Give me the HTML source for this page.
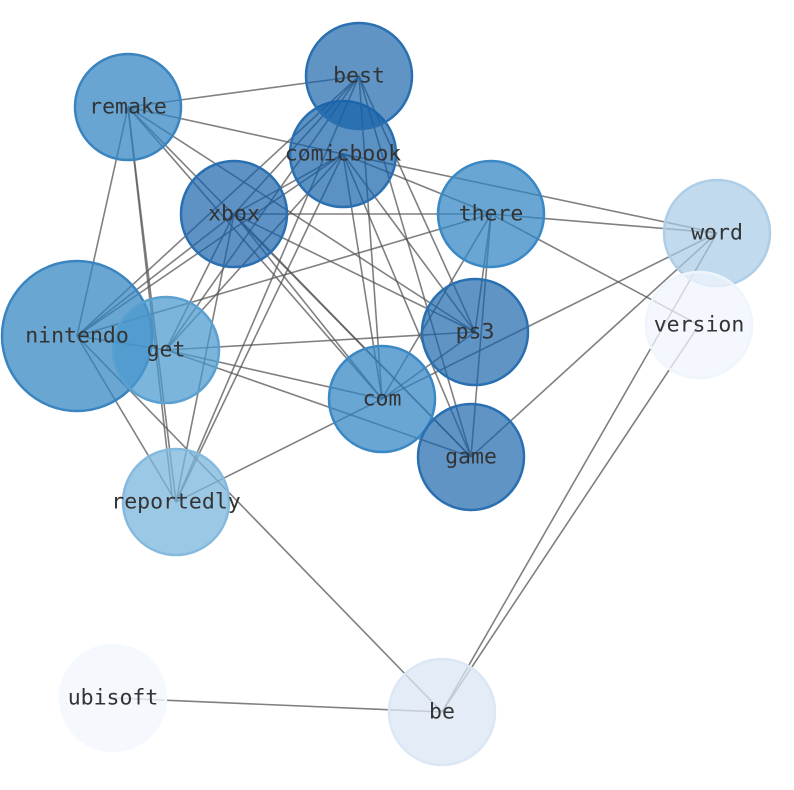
<!DOCTYPE html>
<html><head><meta charset="utf-8"><style>html,body{margin:0;padding:0;background:#fff}svg{display:block}</style></head>
<body>
<svg width="794" height="790" viewBox="0 0 794 790" xmlns="http://www.w3.org/2000/svg">
<g stroke="#555" stroke-opacity="0.75" stroke-width="1.6">
<line x1="128" y1="107" x2="359" y2="76"/>
<line x1="128" y1="107" x2="343" y2="154"/>
<line x1="128" y1="107" x2="77" y2="336"/>
<line x1="128" y1="107" x2="176" y2="502"/>
<line x1="128" y1="107" x2="172" y2="495"/>
<line x1="128" y1="107" x2="382" y2="399"/>
<line x1="128" y1="107" x2="471" y2="457"/>
<line x1="128" y1="107" x2="475" y2="332"/>
<line x1="359" y1="76" x2="234" y2="214"/>
<line x1="359" y1="76" x2="166" y2="350"/>
<line x1="359" y1="76" x2="77" y2="336"/>
<line x1="359" y1="76" x2="176" y2="502"/>
<line x1="359" y1="76" x2="475" y2="332"/>
<line x1="359" y1="76" x2="471" y2="457"/>
<line x1="359" y1="76" x2="382" y2="399"/>
<line x1="343" y1="154" x2="491" y2="214"/>
<line x1="343" y1="154" x2="717" y2="233"/>
<line x1="343" y1="154" x2="166" y2="350"/>
<line x1="343" y1="154" x2="77" y2="336"/>
<line x1="343" y1="154" x2="382" y2="399"/>
<line x1="343" y1="154" x2="471" y2="457"/>
<line x1="343" y1="154" x2="475" y2="332"/>
<line x1="343" y1="154" x2="234" y2="214"/>
<line x1="234" y1="214" x2="491" y2="214"/>
<line x1="234" y1="214" x2="475" y2="332"/>
<line x1="234" y1="214" x2="382" y2="399"/>
<line x1="234" y1="214" x2="471" y2="457"/>
<line x1="234" y1="214" x2="166" y2="350"/>
<line x1="234" y1="214" x2="176" y2="502"/>
<line x1="234" y1="214" x2="77" y2="336"/>
<line x1="491" y1="214" x2="717" y2="233"/>
<line x1="491" y1="214" x2="699" y2="325"/>
<line x1="491" y1="214" x2="77" y2="336"/>
<line x1="491" y1="214" x2="475" y2="332"/>
<line x1="491" y1="214" x2="471" y2="457"/>
<line x1="491" y1="214" x2="382" y2="399"/>
<line x1="717" y1="233" x2="382" y2="399"/>
<line x1="717" y1="233" x2="471" y2="457"/>
<line x1="717" y1="233" x2="442" y2="712"/>
<line x1="699" y1="325" x2="442" y2="712"/>
<line x1="166" y1="350" x2="475" y2="332"/>
<line x1="166" y1="350" x2="382" y2="399"/>
<line x1="166" y1="350" x2="471" y2="457"/>
<line x1="77" y1="336" x2="166" y2="350"/>
<line x1="77" y1="336" x2="176" y2="502"/>
<line x1="77" y1="336" x2="442" y2="712"/>
<line x1="176" y1="502" x2="382" y2="399"/>
<line x1="176" y1="502" x2="343" y2="154"/>
<line x1="475" y1="332" x2="382" y2="399"/>
<line x1="113" y1="698" x2="442" y2="712"/>
</g>
<g stroke-width="2.5">
<circle cx="128" cy="107" r="53" fill="#2f82c0" fill-opacity="0.72" stroke="#3a85c0"/>
<circle cx="343" cy="154" r="53" fill="#0f5da8" fill-opacity="0.68" stroke="#2a6fb0"/>
<circle cx="359" cy="76" r="53" fill="#1461aa" fill-opacity="0.68" stroke="#2a6fb0"/>
<circle cx="234" cy="214" r="53" fill="#125fa9" fill-opacity="0.68" stroke="#2a6fb0"/>
<circle cx="491" cy="214" r="53" fill="#2f84c3" fill-opacity="0.72" stroke="#3a88c4"/>
<circle cx="717" cy="233" r="53" fill="#a8cbe5" fill-opacity="0.7" stroke="#aecde6"/>
<circle cx="699" cy="325" r="53" fill="#f0f6fd" fill-opacity="0.75" stroke="#eef5fd"/>
<circle cx="77" cy="336" r="75" fill="#3183c0" fill-opacity="0.72" stroke="#3a85c0"/>
<circle cx="166" cy="350" r="53" fill="#4a98cd" fill-opacity="0.72" stroke="#5aa0d0"/>
<circle cx="475" cy="332" r="53" fill="#1461aa" fill-opacity="0.68" stroke="#2a6fb0"/>
<circle cx="382" cy="399" r="53" fill="#2f84c3" fill-opacity="0.72" stroke="#3a88c4"/>
<circle cx="471" cy="457" r="53" fill="#1461aa" fill-opacity="0.68" stroke="#2a6fb0"/>
<circle cx="176" cy="502" r="53" fill="#7ab5dc" fill-opacity="0.75" stroke="#85badd"/>
<circle cx="113" cy="698" r="53" fill="#f3f8fe" fill-opacity="0.8" stroke="#f5f9fe"/>
<circle cx="442" cy="712" r="53" fill="#dae6f4" fill-opacity="0.75" stroke="#dbe7f5"/>
</g>
<g font-family="DejaVu Sans Mono, Liberation Mono, monospace" font-size="21.5" fill="#333" text-anchor="middle" dominant-baseline="central">
<text x="128" y="107">remake</text>
<text x="359" y="76">best</text>
<text x="343" y="154">comicbook</text>
<text x="234" y="214">xbox</text>
<text x="491" y="214">there</text>
<text x="717" y="233">word</text>
<text x="699" y="325">version</text>
<text x="77" y="336">nintendo</text>
<text x="166" y="350">get</text>
<text x="475" y="332">ps3</text>
<text x="382" y="399">com</text>
<text x="471" y="457">game</text>
<text x="176" y="502">reportedly</text>
<text x="113" y="698">ubisoft</text>
<text x="442" y="712">be</text>
</g>
</svg>
</body></html>
